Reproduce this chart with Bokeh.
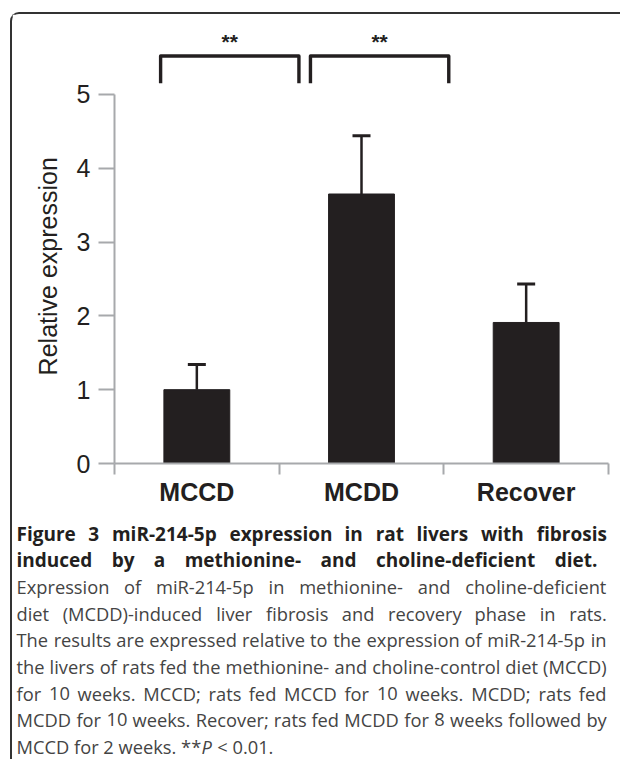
import glob
import os

from bokeh.plotting import figure
from bokeh.layouts import column
from bokeh.models import Range1d, FixedTicker, ColumnDataSource, Whisker, TeeHead
from bokeh.core.properties import value
from bokeh.embed import file_html
from bokeh.resources import INLINE

# ---- data ----
categories = ["MCCD", "MCDD", "Recover"]
means = [1.00, 3.65, 1.91]
errors = [0.34, 0.79, 0.52]
y_ticks = [0, 1, 2, 3, 4, 5]
comparisons = [("MCCD", "MCDD"), ("MCDD", "Recover")]
comparison_labels = ["**", "**"]

caption_title = [
    "Figure 3 miR-214-5p expression in rat livers with fibrosis",
    "induced by a methionine- and choline-deficient diet.",
]
caption_body = [
    "Expression of miR-214-5p in methionine- and choline-deficient",
    "diet (MCDD)-induced liver fibrosis and recovery phase in rats.",
    "The results are expressed relative to the expression of miR-214-5p in",
    "the livers of rats fed the methionine- and choline-control diet (MCCD)",
    "for 10 weeks. MCCD; rats fed MCCD for 10 weeks. MCDD; rats fed",
    "MCDD for 10 weeks. Recover; rats fed MCDD for 8 weeks followed by",
]
caption_last = ["MCCD for 2 weeks. **", "P", "< 0.01."]
caption_last_style = ["normal", "italic", "normal"]
caption_last_gap = [0, 0, 1]   # number of spaces before each piece

# ---- styling ----
OFF_X, OFF_Y = 12, 14          # css margin + border of the panel frame
SPLIT_Y = 512                  # page y where the caption panel starts
W = 622 - OFF_X
H1 = SPLIT_Y - OFF_Y
H2 = 761 - SPLIT_Y
INK = "#231f20"
AXIS = "#a7a9ac"
BODY = "#444444"
AX_FONT = "Liberation Sans"
CAP_FONT = "Open Sans"
TITLE_SIZE = 19.0
BODY_SIZE = 18.3

xs = [i + 0.5 for i in range(len(categories))]
src = ColumnDataSource(dict(
    x=xs, top=means, upper=[m + e for m, e in zip(means, errors)]))

p = figure(width=W, height=H1, output_backend="svg", toolbar_location=None,
           x_range=Range1d(0, len(categories)), y_range=Range1d(0, 6),
           min_border_left=114 - OFF_X, min_border_right=14, min_border_top=20 - OFF_Y,
           min_border_bottom=SPLIT_Y - 463)
p.frame_align = False
p.styles = {"margin-left": "10px", "margin-top": "12px",
            "border-left": "2px solid #333333", "border-top": "2px solid #333333",
            "border-top-left-radius": "9px"}
p.outline_line_color = None
p.grid.grid_line_color = None
p.background_fill_color = "white"
p.border_fill_color = "white"

# bars + error bars
p.vbar(x="x", top="top", width=0.4, source=src, fill_color=INK, line_color=INK)
p.add_layout(Whisker(source=src, base="x", upper="upper", lower="top",
                     dimension="height", line_color=INK, line_width=2.5,
                     upper_head=TeeHead(size=18, line_color=INK, line_width=3),
                     lower_head=None))

# significance brackets
bracket_shift = [0.0, -0.09]
b_bottom, b_top, star_y = 5.15, 5.52, 5.72
bx, by, sx = [], [], []
for (a, b), sh in zip(comparisons, bracket_shift):
    x0 = categories.index(a) + 0.28 + sh
    x1 = categories.index(b) + 0.12 + sh
    bx.append([x0, x0, x1, x1])
    by.append([b_bottom, b_top, b_top, b_bottom])
    sx.append((x0 + x1) / 2)
p.multi_line(bx, by, line_color=INK, line_width=3.4, line_join="round")
p.text(x=sx, y=[star_y] * len(sx), text=comparison_labels, text_align="center",
       text_baseline="alphabetic", text_font=value(AX_FONT), text_font_style="bold",
       text_font_size="21px", text_color=INK)

# x axis
xax = p.xaxis[0]
xax.ticker = FixedTicker(ticks=xs, minor_ticks=list(range(len(categories) + 1)))
xax.major_label_overrides = {x: c for x, c in zip(xs, categories)}
xax.major_tick_line_color = None
xax.major_tick_out = 0
xax.major_tick_in = 0
xax.minor_tick_out = 11
xax.minor_tick_in = 0
xax.minor_tick_line_color = AXIS
xax.minor_tick_line_width = 2
xax.axis_line_color = AXIS
xax.axis_line_width = 2
xax.major_label_text_font = AX_FONT
xax.major_label_text_font_style = "bold"
xax.major_label_text_font_size = "25px"
xax.major_label_text_color = INK
xax.major_label_standoff = 3

# y axis
yax = p.yaxis[0]
yax.ticker = FixedTicker(ticks=y_ticks)
yax.bounds = (y_ticks[0], y_ticks[-1])
yax.major_tick_out = 16
yax.major_tick_in = 0
yax.minor_tick_line_color = None
yax.major_tick_line_color = AXIS
yax.major_tick_line_width = 2
yax.axis_line_color = AXIS
yax.axis_line_width = 2
yax.major_label_text_font = AX_FONT
yax.major_label_text_font_size = "25px"
yax.major_label_text_color = INK
yax.major_label_standoff = 8
# trailing no-break spaces shift the centred label toward the axis bottom
yax.axis_label = "Relative expression" + "\u00a0" * 7
yax.axis_label_text_font = AX_FONT
yax.axis_label_text_font_size = "25px"
yax.axis_label_text_font_style = "normal"
yax.axis_label_text_color = INK
yax.axis_label_standoff = 12


# ---- caption text measurement (for justified lines) ----
def _find(patterns):
    roots = ["/usr/share/fonts", "/usr/local/share/fonts",
             os.path.expanduser("~/.fonts"), os.path.expanduser("~/.local/share/fonts")]
    for pat in patterns:
        for root in roots:
            hits = sorted(glob.glob(os.path.join(root, "**", pat), recursive=True))
            if hits:
                return hits[0]
    return None


def make_measurer(patterns, bold, fallback_em):
    font = None
    path = _find(patterns)
    if path:
        try:
            from PIL import ImageFont
            font = ImageFont.truetype(path, 100)
            if bold and "Bold" not in os.path.basename(path):
                try:
                    names = font.get_variation_names()
                    for n in names:
                        nn = n.decode() if isinstance(n, bytes) else n
                        if nn == "Bold":
                            font.set_variation_by_name(n)
                            break
                except Exception:
                    pass
        except Exception:
            font = None

    def measure(s, size):
        if font is not None:
            try:
                return font.getlength(s) * size / 100.0
            except Exception:
                pass
        return len(s) * fallback_em * size
    return measure


m_reg = make_measurer(["OpenSans-Regular.ttf", "OpenSans[[]*.ttf",
                       "OpenSans-VariableFont*.ttf", "OpenSans.ttf"], False, 0.52)
m_bold = make_measurer(["OpenSans-Bold.ttf", "OpenSans[[]*.ttf",
                        "OpenSans-VariableFont*.ttf"], True, 0.56)


def layout_line(text, size, measure, x0, x1, justify):
    words = text.split(" ")
    widths = [measure(w, size) for w in words]
    if justify and len(words) > 1:
        gap = (x1 - x0 - sum(widths)) / (len(words) - 1)
    else:
        gap = measure(" ", size)
    out, x = [], x0
    for w, wd in zip(words, widths):
        out.append((x, w))
        x += wd + gap
    return out


CAP_X0 = 16
BASE0, STEP = 535, 26.6
title_right = [606, 597]
body_right = [606] * len(caption_body)

p2 = figure(width=W, height=H2, output_backend="svg", toolbar_location=None,
            x_range=Range1d(OFF_X, 622), y_range=Range1d(761, SPLIT_Y),
            x_axis_type=None, y_axis_type=None, min_border=0,
            min_border_left=0, min_border_right=0, min_border_top=0, min_border_bottom=0)
p2.frame_align = False
p2.styles = {"margin-left": "10px", "border-left": "2px solid #333333"}
p2.outline_line_color = None
p2.grid.grid_line_color = None
p2.background_fill_color = "white"
p2.border_fill_color = "white"

line = 0
tx, ty, tt = [], [], []
for t, xr in zip(caption_title, title_right):
    for x, w in layout_line(t, TITLE_SIZE, m_bold, CAP_X0, xr, True):
        tx.append(x); ty.append(BASE0 + STEP * line); tt.append(w)
    line += 1
p2.text(x=tx, y=ty, text=tt, text_font=value(CAP_FONT), text_font_style="bold",
        text_font_size=f"{TITLE_SIZE}px", text_color=INK, text_baseline="alphabetic",
        text_align="left")

bx2, by2, bt2 = [], [], []
for t, xr in zip(caption_body, body_right):
    for x, w in layout_line(t, BODY_SIZE, m_reg, CAP_X0, xr, True):
        bx2.append(x); by2.append(BASE0 + STEP * line); bt2.append(w)
    line += 1
p2.text(x=bx2, y=by2, text=bt2, text_font=value(CAP_FONT), text_font_style="normal",
        text_font_size=f"{BODY_SIZE}px", text_color=BODY, text_baseline="alphabetic",
        text_align="left")

x = CAP_X0
space_w = m_reg(" ", BODY_SIZE)
for t, st, g in zip(caption_last, caption_last_style, caption_last_gap):
    x += g * space_w
    p2.text(x=[x], y=[BASE0 + STEP * line], text=[t], text_font=value(CAP_FONT),
            text_font_style=st, text_font_size=f"{BODY_SIZE}px", text_color=BODY,
            text_baseline="alphabetic", text_align="left")
    x += m_reg(t, BODY_SIZE)

layout = column(p, p2, spacing=0)
open("out.html", "w").write(file_html(layout, INLINE))
